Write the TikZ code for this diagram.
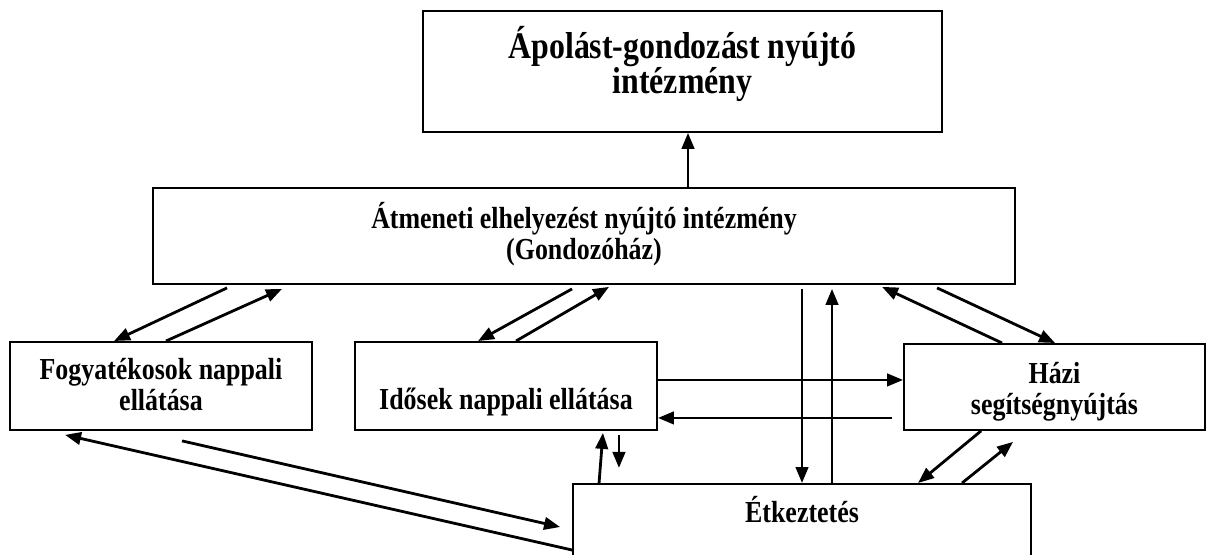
\documentclass[tikz,border=0pt]{standalone}
\usepackage{fontspec}
\newfontfamily\boxfont{Liberation Serif}[FakeStretch=0.85]
\usetikzlibrary{arrows.meta}

\begin{document}
\begin{tikzpicture}[x=1pt,y=-1pt,->,>={Triangle[length=16pt,width=12.5pt]},line width=2.8pt,
  box node/.style={draw,rectangle,line width=1.9pt,inner xsep=0pt,inner ysep=0pt,anchor=north,align=center,font=\boxfont\bfseries\fontsize{30.5}{31}\selectfont}]
\useasboundingbox (0,0) rectangle (1214,554);
\clip (0,0) rectangle (1214,554);
  \node[box node,minimum width=519pt,text height=83pt,text depth=38pt,font=\boxfont\bfseries\fontsize{37.5}{35}\selectfont] (apol) at (682.5,10) {Ápolást-gondozást nyújtó\\intézmény};
  \node[box node,minimum width=862pt,text height=72pt,text depth=24pt] (atm) at (584,187) {Átmeneti elhelyezést nyújtó intézmény\\(Gondozóház)};
  \node[box node,minimum width=302pt,text height=69pt,text depth=19pt] (fog) at (161,341) {Fogyatékosok nappali\\ellátása};
  \node[box node,minimum width=302pt,text height=68pt,text depth=20pt] (idos) at (506,341) {Idősek nappali ellátása};
  \node[box node,minimum width=301pt,text height=71pt,text depth=15pt] (hazi) at (1054.5,343) {Házi\\segítségnyújtás};
  \node[box node,minimum width=458pt,text height=39pt,text depth=80pt] (etk) at (802,483) {Étkeztetés};

\path
  ([xshift=104pt]atm.north) edge ([xshift=5.5pt]apol.south)
  ([xshift=75pt,yshift=-3pt]atm.south west) edge ([xshift=105pt]fog.north west)
  ([xshift=157pt]fog.north west) edge ([xshift=130pt,yshift=-4pt]atm.south west)
  ([xshift=420pt,yshift=-4pt]atm.south west) edge ([xshift=124pt]idos.north west)
  ([xshift=162pt]idos.north west) edge ([xshift=457pt,yshift=-2pt]atm.south west)
  ([xshift=218pt,yshift=-4pt]atm.south) edge (etk.north)
  ([xshift=30pt]etk.north) edge ([xshift=248pt,yshift=-4pt]atm.south)
  ([xshift=99pt]hazi.north west) edge ([xshift=730pt,yshift=-2pt]atm.south west)
  ([xshift=785pt,yshift=-3pt]atm.south west) edge ([xshift=152pt]hazi.north west)
  ([yshift=6pt]idos.east) edge ([yshift=7pt]hazi.west)
  ([xshift=-11pt,yshift=-31pt]hazi.west) edge ([yshift=-32pt]idos.east)
  ([xshift=27pt]etk.north west) edge ([xshift=-55pt,yshift=-2pt]idos.south east)
  ([xshift=-39pt,yshift=-4pt]idos.south east) edge ([xshift=-39pt,yshift=-37pt]idos.south east)
  ([xshift=78pt]hazi.south west) edge ([xshift=346pt]etk.north west)
  ([xshift=390pt]etk.north west) edge ([xshift=110pt,yshift=-11pt]hazi.south west)
  ([yshift=-67pt]etk.north west) edge ([xshift=56pt,yshift=-4pt]fog.south west)
  ([xshift=173pt,yshift=-10pt]fog.south west) edge ([xshift=-12pt,yshift=-44pt]etk.north west)
;
\end{tikzpicture}
\end{document}
